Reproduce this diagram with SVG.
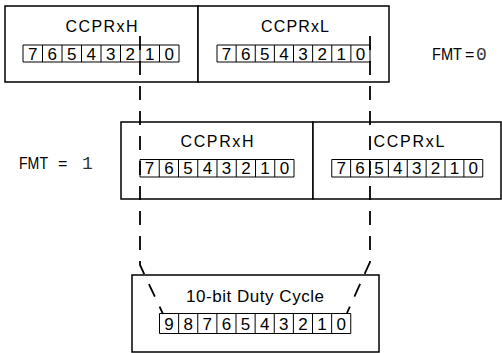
<svg xmlns="http://www.w3.org/2000/svg" width="502" height="353" viewBox="0 0 502 353">
<style>
.box{fill:#fff;stroke:#000;stroke-width:1.5}
.cells{fill:none;stroke:#000;stroke-width:1}
.lbl{font-family:"Liberation Sans",Arial,sans-serif;font-size:16px;fill:#000;text-anchor:middle}
.dig{font-family:"Liberation Sans",Arial,sans-serif;font-size:17px;fill:#000;text-anchor:middle}
.fmt{font-family:"Liberation Sans",Arial,sans-serif;font-size:16px;fill:#000}
.mono{font-family:"Liberation Mono","Courier New",monospace;font-size:18px;fill:#333}
.dash{fill:none;stroke:#000;stroke-width:1.8;stroke-dasharray:14 11}
</style>
<rect width="502" height="353" fill="#fff"/>

<g id="ccprxh-fmt0">
<rect class="box" x="5" y="6" width="193" height="76"/>
<text class="lbl" x="101.5" y="32" textLength="72" lengthAdjust="spacing">CCPRxH</text>
<path class="cells" d="M23,45H179V62H23Z M42.5,45V62 M62,45V62 M81.5,45V62 M101,45V62 M120.5,45V62 M140,45V62 M159.5,45V62"/>
<g class="dig">
<text x="32.75" y="59.5">7</text><text x="52.25" y="59.5">6</text><text x="71.75" y="59.5">5</text><text x="91.25" y="59.5">4</text><text x="110.75" y="59.5">3</text><text x="130.25" y="59.5">2</text><text x="149.75" y="59.5">1</text><text x="169.25" y="59.5">0</text>
</g>
</g>

<g id="ccprxl-fmt0">
<rect class="box" x="198" y="6" width="191" height="76"/>
<text class="lbl" x="295" y="32" textLength="68" lengthAdjust="spacing">CCPRxL</text>
<path class="cells" d="M217,45H370V62H217Z M236.125,45V62 M255.25,45V62 M274.375,45V62 M293.5,45V62 M312.625,45V62 M331.75,45V62 M350.875,45V62"/>
<g class="dig">
<text x="226.6" y="59.5">7</text><text x="245.7" y="59.5">6</text><text x="264.8" y="59.5">5</text><text x="283.9" y="59.5">4</text><text x="303.1" y="59.5">3</text><text x="322.2" y="59.5">2</text><text x="341.3" y="59.5">1</text><text x="360.4" y="59.5">0</text>
</g>
</g>

<g id="fmt0-label">
<text class="fmt" y="60"><tspan x="432" textLength="30" lengthAdjust="spacingAndGlyphs">FMT</tspan><tspan x="465">=</tspan><tspan class="mono" x="476">0</tspan></text>
</g>

<g id="ccprxh-fmt1">
<rect class="box" x="121" y="122" width="192" height="77"/>
<text class="lbl" x="217" y="147" textLength="73" lengthAdjust="spacing">CCPRxH</text>
<path class="cells" d="M140,159.5H294V177H140Z M159.25,159.5V177 M178.5,159.5V177 M197.75,159.5V177 M217,159.5V177 M236.25,159.5V177 M255.5,159.5V177 M274.75,159.5V177"/>
<g class="dig">
<text x="149.6" y="174">7</text><text x="168.9" y="174">6</text><text x="188.1" y="174">5</text><text x="207.4" y="174">4</text><text x="226.6" y="174">3</text><text x="245.9" y="174">2</text><text x="265.1" y="174">1</text><text x="284.4" y="174">0</text>
</g>
</g>

<g id="ccprxl-fmt1">
<rect class="box" x="313" y="122" width="188" height="77"/>
<text class="lbl" x="409" y="147" textLength="71" lengthAdjust="spacing">CCPRxL</text>
<path class="cells" d="M331.75,159.5H482.75V177H331.75Z M350.625,159.5V177 M369.5,159.5V177 M388.375,159.5V177 M407.25,159.5V177 M426.125,159.5V177 M445,159.5V177 M463.875,159.5V177"/>
<g class="dig">
<text x="341.2" y="174">7</text><text x="360.1" y="174">6</text><text x="378.9" y="174">5</text><text x="397.8" y="174">4</text><text x="416.7" y="174">3</text><text x="435.6" y="174">2</text><text x="454.4" y="174">1</text><text x="473.3" y="174">0</text>
</g>
</g>

<g id="fmt1-label">
<text class="fmt" y="169"><tspan x="19" textLength="29" lengthAdjust="spacingAndGlyphs">FMT</tspan><tspan x="58">=</tspan><tspan class="mono" x="82">1</tspan></text>
</g>

<g id="duty-cycle">
<rect class="box" x="132" y="275" width="247" height="77"/>
<text class="lbl" x="255" y="302" textLength="138" lengthAdjust="spacing" style="font-size:17px">10-bit Duty Cycle</text>
<path class="cells" d="M159.5,313.5H350.75V333.5H159.5Z M178.625,313.5V333.5 M197.75,313.5V333.5 M216.875,313.5V333.5 M236,313.5V333.5 M255.125,313.5V333.5 M274.25,313.5V333.5 M293.375,313.5V333.5 M312.5,313.5V333.5 M331.625,313.5V333.5"/>
<g class="dig">
<text x="169.1" y="330">9</text><text x="188.2" y="330">8</text><text x="207.3" y="330">7</text><text x="226.4" y="330">6</text><text x="245.6" y="330">5</text><text x="264.7" y="330">4</text><text x="283.8" y="330">3</text><text x="302.9" y="330">2</text><text x="322.1" y="330">1</text><text x="341.2" y="330">0</text>
</g>
</g>

<g id="connectors">
<path class="dash" d="M140,36V265L163,314"/>
<path class="dash" d="M370,36V262L347,313"/>
</g>
</svg>
